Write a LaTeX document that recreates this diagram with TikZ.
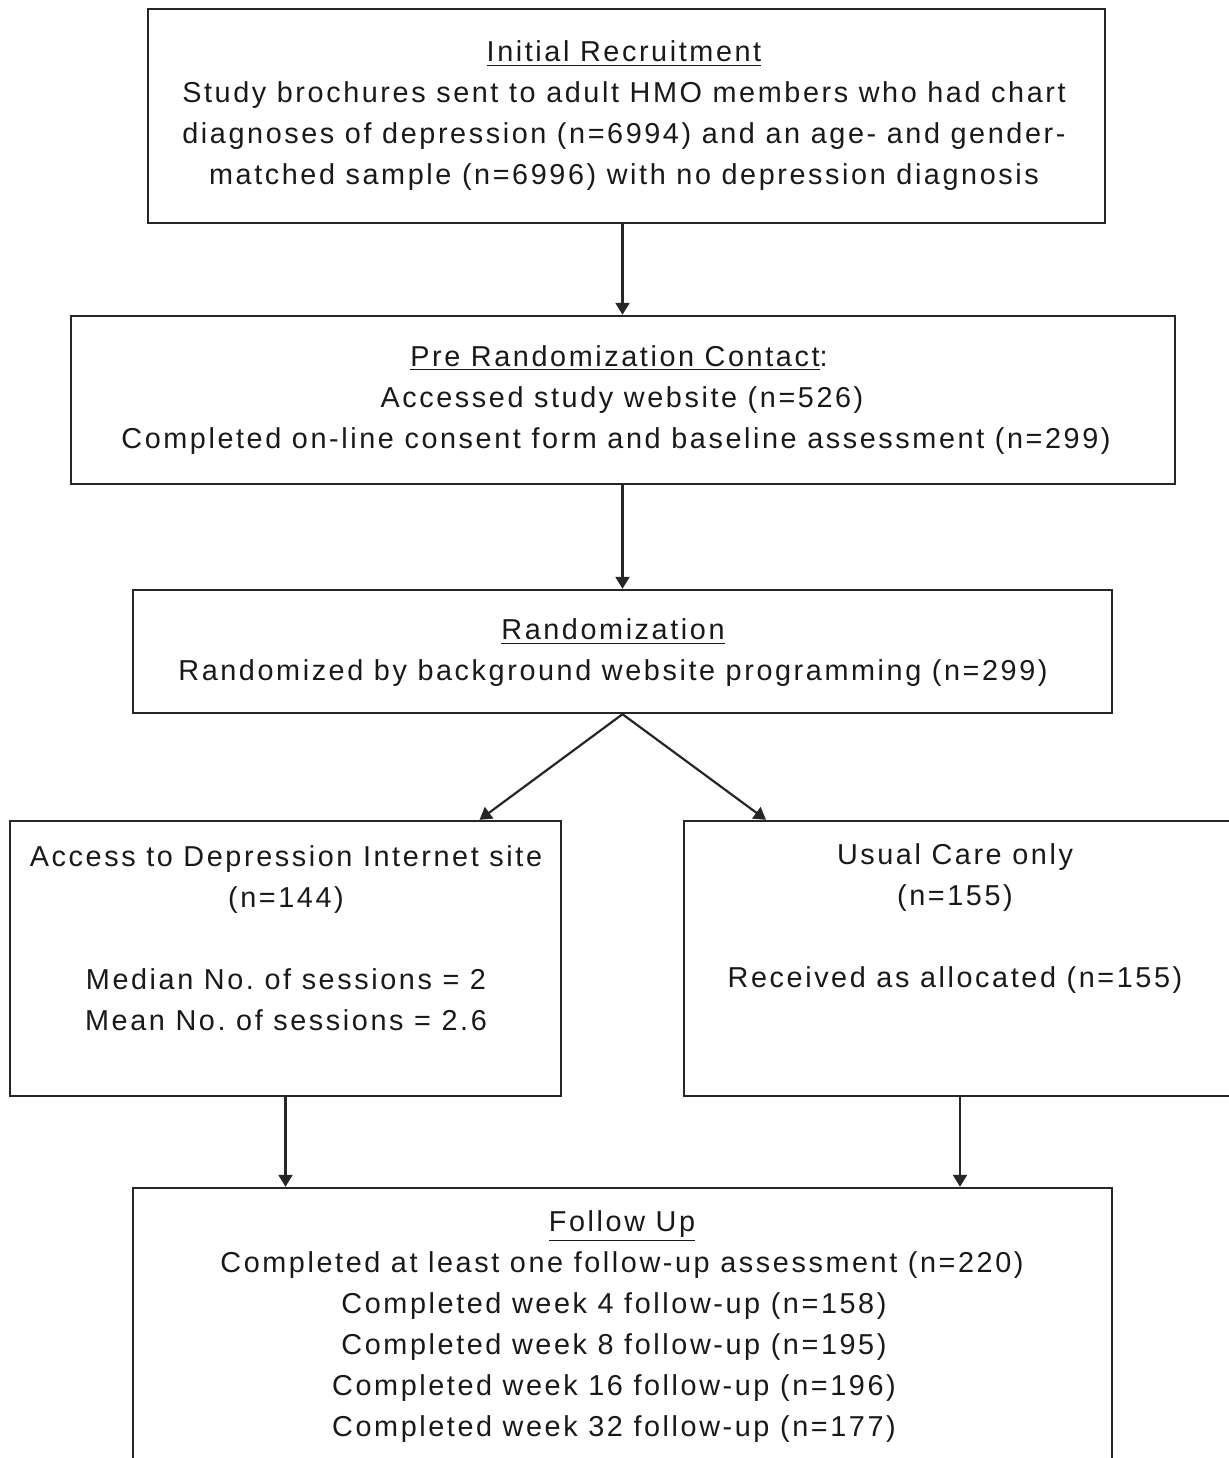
\documentclass[tikz,border=0pt]{standalone}
\usepackage{fontspec}
\setmainfont[LetterSpace=9]{Liberation Sans}
\usetikzlibrary{arrows.meta,fit}
\newcommand{\ttl}[1]{\underline{#1}}
\newcommand{\lsh}[1]{\hspace*{#1}}
\begin{document}
\frenchspacing
\begin{tikzpicture}[x=0.5pt,y=-0.5pt,
  box/.style={draw=black!85,line width=1.2pt,inner sep=0pt,rectangle},
  txt/.style={align=center,inner sep=0pt,text=black!90,font=\fontsize{14.4pt}{20.5pt}\selectfont},
  arr/.style={draw=black!85,line width=1.1pt,-{Triangle[width=7pt,length=6pt]}}]
\useasboundingbox (0,0) rectangle (1229,1458);
\clip (0,0) rectangle (1229,1458);
% boxes
\node[box,fit={(148,9) (1105,223)}] (b1) {};
\node[box,fit={(71,316) (1175,484)}] (b2) {};
\node[box,fit={(133,590) (1112,713)}] (b3) {};
\node[box,fit={(10,821) (561,1096)}] (b4) {};
\node[box,fit={(684,821) (1236,1096)}] (b5) {};
\node[box,fit={(133,1188) (1112,1480)}] (b6) {};
% texts
\node[txt] (t1) at (624,116) {\ttl{Initial Recruitment}\\
Study brochures sent to adult HMO members who had chart\\
diagnoses of depression (n=6994) and an age- and gender-\\
matched sample (n=6996) with no depression diagnosis};
\node[txt] (t2) at (616,400) {\lsh{3pt}\ttl{Pre Randomization Contact}:\\
\lsh{6pt}Accessed study website (n=526)\\
Completed on-line consent form and baseline assessment (n=299)};
\node[txt] (t3) at (613,653) {\ttl{Randomization}\\
Randomized by background website programming (n=299)};
\node[txt] (t4) at (286,938) {Access to Depression Internet site\\
(n=144)\\[20.5pt]
Median No. of sessions = 2\\
Mean No. of sessions = 2.6};
\node[txt] (t5) at (955,919) {Usual Care only\\
(n=155)\\[20.5pt]
Received as allocated (n=155)};
\node[txt] (t6) at (622,1327) {\ttl{Follow Up}\\
Completed at least one follow-up assessment (n=220)\\
\lsh{-8pt}Completed week 4 follow-up (n=158)\\
\lsh{-8pt}Completed week 8 follow-up (n=195)\\
\lsh{-8pt}Completed week 16 follow-up (n=196)\\
\lsh{-8pt}Completed week 32 follow-up (n=177)};
% connectors
\draw[arr] (b1.south -| b3.north) -- (b2.north -| b3.north);
\draw[arr] (b2.south -| b3.north) -- (b3.north);
\draw[arr] (b3.south) -- ([xshift=97pt]b4.north);
\draw[arr] (b3.south) -- ([xshift=-97pt]b5.north);
\draw[arr] (b4.south) -- (b4.south |- b6.north);
\draw[arr] (b5.south) -- (b5.south |- b6.north);
\end{tikzpicture}
\end{document}
